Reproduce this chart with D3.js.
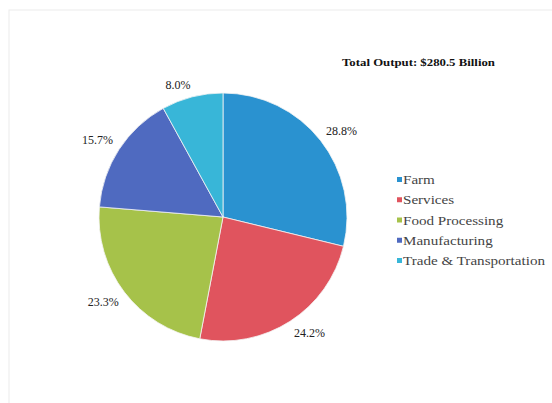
<!DOCTYPE html>
<html><head><meta charset="utf-8">
<script src="https://cdn.jsdelivr.net/npm/d3@7"></script>
<style>body{margin:0;background:#fff}svg{display:block}
text{font-family:'Liberation Serif','Times New Roman',Times,'DejaVu Serif',serif}</style>
</head><body>
<svg id="chart" width="552" height="403"></svg>
<script>
const categories = ["Farm", "Services", "Food Processing", "Manufacturing", "Trade & Transportation"];
const values = [28.8, 24.2, 23.3, 15.7, 8.0];
const colors = ["#2a92d0", "#e0545e", "#a6c24a", "#4f6ac0", "#38b6d8"];
const title = "Total Output: $280.5 Billion";

const svg = d3.select("#chart");
svg.append("rect").attr("x", 9).attr("y", 10).attr("width", 560).attr("height", 420)
  .attr("fill", "none").attr("stroke", "#ececec").attr("stroke-width", 1);

const cx = 223, cy = 217, r = 124;
const pie = d3.pie().sort(null).value(d => d)(values);
const arc = d3.arc().innerRadius(0).outerRadius(r);
const g = svg.append("g").attr("transform", `translate(${cx},${cy})`);
g.selectAll("path").data(pie).join("path")
  .attr("d", arc).attr("fill", (d, i) => colors[i])
  .attr("stroke", "#f4f4f4").attr("stroke-width", 0.8);

const fmt = d3.format(".1f");
const pad = 7;
g.selectAll("text.lbl").data(pie).join("text").attr("class", "lbl")
  .each(function(d) {
    const a = (d.startAngle + d.endAngle) / 2;
    const ux = Math.sin(a), uy = -Math.cos(a);
    const t = d3.select(this)
      .attr("font-size", 12).attr("fill", "#222")
      .attr("text-anchor", "middle")
      .text(fmt(d.data) + "%");
    const w = this.getComputedTextLength(), h = 11;
    const x = ux * (r + pad) + Math.sign(ux) * w / 2;
    const y = uy * (r + pad) + Math.sign(uy) * h / 2;
    t.attr("x", x).attr("y", y + 4);
  });

svg.append("text").attr("transform", "translate(342,66) scale(1.28,1)")
  .attr("font-size", 10).attr("font-weight", "bold").attr("fill", "#111")
  .text(title);

const ly = d3.scalePoint().domain(categories).range([180, 261]);
const leg = svg.append("g");
categories.forEach((c, i) => {
  leg.append("rect").attr("x", 397).attr("y", ly(c) - 3).attr("width", 5).attr("height", 5)
    .attr("fill", colors[i]);
  leg.append("text").attr("transform", `translate(403,${ly(c) + 4}) scale(1.26,1)`)
    .attr("font-size", 12).attr("fill", "#444").text(c);
});
</script>
</body></html>
